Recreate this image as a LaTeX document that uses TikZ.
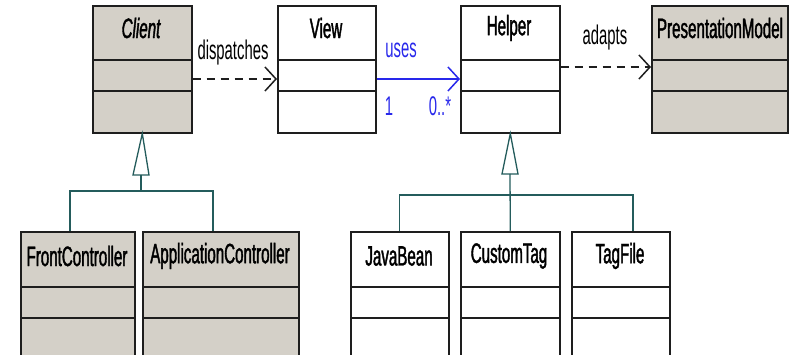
\documentclass[tikz,border=0pt]{standalone}
\usepackage{fontspec}
\usepackage{tikz}
\usepackage{xcolor}
\usetikzlibrary{arrows.meta,calc}
\newfontfamily\umlfont[FakeStretch=0.55]{Liberation Sans}
\newfontfamily\umlboldfont[FakeStretch=0.54,FakeBold=1.4]{Liberation Sans}
\definecolor{umlgrey}{RGB}{212,208,200}
\definecolor{umlline}{RGB}{30,30,30}
\definecolor{genteal}{RGB}{36,92,92}
\definecolor{useblue}{RGB}{40,40,235}
\tikzset{
  klass/.style={draw=umlline,line width=1.6pt,anchor=north west,inner sep=0pt,fill=white},
  greyklass/.style={klass,fill=umlgrey},
  kname/.style={font=\umlboldfont\fontsize{28}{30}\selectfont,inner sep=0pt},
  rellabel/.style={font=\umlfont\fontsize{27}{29}\selectfont,inner sep=0pt},
  opentip/.style={-{Straight Barb[length=11pt,width=24pt]}},
  dependency/.style={opentip,line width=1.5pt,color=umlline,dash pattern=on 8pt off 6pt},
  genline/.style={line width=1.3pt,color=genteal}
}
\newcommand{\compartments}[3]{%
  \draw [line width=1.6pt,color=umlline] (#1.west |- 0,#2)-- (#1.east |- 0,#2);
  \draw [line width=1.6pt,color=umlline] (#1.west |- 0,#3)-- (#1.east |- 0,#3);}
\begin{document}
\begin{tikzpicture}[line cap=butt,line join=miter,x=1pt,y=-1pt]
\useasboundingbox (0,0) rectangle (794,355);
\clip (0,0) rectangle (794,355);
% top row
\node [greyklass,minimum width=99pt,minimum height=127pt] (client) at (92,5) {};
\node [klass,minimum width=98pt,minimum height=127pt] (view) at (277,5) {};
\node [klass,minimum width=99pt,minimum height=127pt] (helper) at (460,5) {};
\node [greyklass,minimum width=136pt,minimum height=127pt] (pmodel) at (651,5) {};
\compartments{client}{60}{91}
\compartments{view}{60}{91}
\compartments{helper}{60}{91}
\compartments{pmodel}{60}{91}
\node [kname] (clientname) at (141,28) {\itshape Client};
\node [kname] (viewname) at (326,28) {View};
\node [kname] (helpername) at (509,28) {Helper};
\node [kname] (pmodelname) at (720,28) {PresentationModel};
% bottom row
\node [greyklass,minimum width=114pt,minimum height=150pt] (front) at (20,231) {};
\node [greyklass,minimum width=156pt,minimum height=150pt] (appctrl) at (142,231) {};
\node [klass,minimum width=98pt,minimum height=150pt] (javabean) at (350,231) {};
\node [klass,minimum width=99pt,minimum height=150pt] (customtag) at (460,231) {};
\node [klass,minimum width=98pt,minimum height=150pt] (tagfile) at (571,231) {};
\compartments{front}{287}{318}
\compartments{appctrl}{287}{318}
\compartments{javabean}{287}{318}
\compartments{customtag}{287}{318}
\compartments{tagfile}{287}{318}
\node [kname] (frontname) at (77,256) {FrontController};
\node [kname] (appctrlname) at (220,256) {ApplicationController};
\node [kname] (javabeanname) at (399,256) {JavaBean};
\node [kname] (customtagname) at (509,256) {CustomTag};
\node [kname] (tagfilename) at (620,256) {TagFile};
% relations
\draw [dependency] (client.east |- 0,79)-- (view.west |- 0,79);
\node [rellabel] (dispatcheslabel) at (233,53) {dispatches};
\draw [opentip,line width=1.5pt,color=useblue] (view.east |- 0,79)-- (helper.west |- 0,79);
\node [rellabel,color=useblue] (useslabel) at (401,50) {uses};
\node [rellabel,color=useblue] (usesfrom) at (389,106) {1};
\node [rellabel,color=useblue] (usesto) at (440,106) {0..*};
\draw [dependency] (helper.east |- 0,67)-- (pmodel.west |- 0,67);
\node [rellabel] (adaptslabel) at (605,38) {adapts};
% generalization
\coordinate (clientfoot) at (141,175);
\coordinate (helperfoot) at (510,174);
\draw [genline,fill=white] (client.south) -- (133,175) -- (149,175) -- cycle;
\draw [genline] (clientfoot)-- (141,191);
\draw [genline] ($(front.north west)+(50,0)$) |- ($(appctrl.north west)+(71,-40)$) -- ($(appctrl.north west)+(71,0)$);
\draw [genline,fill=white] (helper.south) -- (502,174) -- (518,174) -- cycle;
\draw [genline] (helperfoot)-- (customtag.north);
\draw [genline] (javabean.north) |- ($(tagfile.north west)+(62,-36)$) -- ($(tagfile.north west)+(62,0)$);
\end{tikzpicture}
\end{document}
